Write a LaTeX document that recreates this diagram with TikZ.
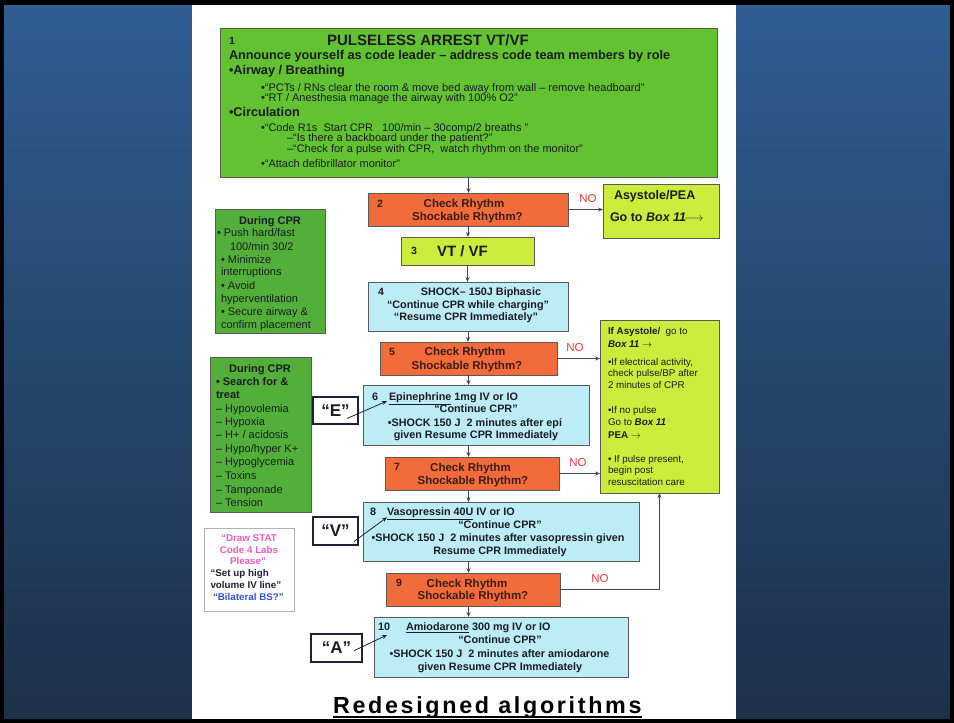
\documentclass[tikz,border=0pt]{standalone}
\usepackage{fontspec}
\setmainfont{Liberation Sans}
\usetikzlibrary{arrows.meta}
\definecolor{bgtop}{HTML}{2F5E92}
\definecolor{bgbot}{HTML}{1D3049}
\definecolor{boxgreen}{HTML}{62C232}
\definecolor{cprgreen}{HTML}{52B03A}
\definecolor{orng}{HTML}{F26B3A}
\definecolor{limeb}{HTML}{CBEC3A}
\definecolor{cyanbox}{HTML}{BCECF5}
\definecolor{bord}{HTML}{5A5A5A}
\definecolor{txt}{HTML}{1C1C22}
\definecolor{otxt}{HTML}{3A1E18}
\definecolor{arrowc}{HTML}{3B4763}
\definecolor{nored}{HTML}{E8383C}
\definecolor{pinktx}{HTML}{EA5BC3}
\definecolor{bluetx}{HTML}{3552CC}
\definecolor{navytx}{HTML}{20203A}
\newcommand\fsz[1]{\fontsize{#1}{#1}\selectfont}
\tikzset{
  box/.style={draw=bord, line width=0.8pt, inner sep=0pt, outer sep=0pt},
  gbox/.style={box, fill=boxgreen},
  cbox/.style={box, fill=cprgreen},
  obox/.style={box, fill=orng},
  lbox/.style={box, fill=limeb},
  bbox/.style={box, fill=cyanbox},
  wbox/.style={draw=navytx, line width=1.8pt, fill=white, inner sep=0pt, outer sep=0pt},
  pbox/.style={draw=black!30, line width=0.8pt, fill=white, inner sep=0pt, outer sep=0pt},
  tx/.style={inner sep=0pt, outer sep=0pt, anchor=base west, text=txt},
  tc/.style={inner sep=0pt, outer sep=0pt, anchor=base, text=txt},
  otx/.style={tx, text=otxt},
  otc/.style={tc, text=otxt},
  arr/.style={draw=arrowc, line width=0.8pt, -{Stealth[length=5pt,width=4pt]}},
  noLbl/.style={inner sep=0pt, anchor=center, text=nored, font=\fsz{11.5}},
}
\begin{document}
\begin{tikzpicture}[x=1pt,y=-1pt]
\useasboundingbox (0,0) rectangle (954,723);
\shade[top color=bgtop,bottom color=bgbot] (0,0) rectangle (954,723);
\fill[white] (192,5) rectangle (736,719);
\fill[black] (0,0) rectangle (954,4.5);
\fill[black] (0,719) rectangle (954,723);
\fill[black] (0,0) rectangle (4,723);
\fill[black] (950,0) rectangle (954,723);

% ---------- boxes ----------
\node[gbox, minimum width=497pt, minimum height=149pt] (b1) at (468.5,102.5) {};
\node[obox, minimum width=200pt, minimum height=33pt] (b2) at (468,209.5) {};
\node[lbox, minimum width=116pt, minimum height=54pt] (asys) at (661,211) {};
\node[lbox, minimum width=133pt, minimum height=28pt] (b3) at (467.5,251) {};
\node[bbox, minimum width=200pt, minimum height=49pt] (b4) at (468,306.5) {};
\node[cbox, minimum width=110pt, minimum height=124pt] (cpr1) at (270,271) {};
\node[obox, minimum width=177pt, minimum height=33pt] (b5) at (468.5,358.5) {};
\node[lbox, minimum width=119pt, minimum height=173pt] (ifa) at (659.5,406.5) {};
\node[cbox, minimum width=101pt, minimum height=155pt] (cpr2) at (260.5,434.5) {};
\node[bbox, minimum width=226pt, minimum height=60pt] (b6) at (476,415) {};
\node[obox, minimum width=174pt, minimum height=33pt] (b7) at (472,473.5) {};
\node[bbox, minimum width=276pt, minimum height=59pt] (b8) at (501,531.5) {};
\node[pbox, minimum width=90pt, minimum height=83pt] (labs) at (249,569.5) {};
\node[obox, minimum width=174pt, minimum height=33pt] (b9) at (473,589.5) {};
\node[bbox, minimum width=254pt, minimum height=60pt] (b10) at (501,647) {};
\node[wbox, minimum width=45pt, minimum height=27pt, font=\fsz{17}\bfseries, text=txt] (eb) at (335.5,410.5) {“E”};
\node[wbox, minimum width=45pt, minimum height=28pt, font=\fsz{17}\bfseries, text=txt] (vb) at (335.5,531) {“V”};
\node[wbox, minimum width=51pt, minimum height=28pt, font=\fsz{17}\bfseries, text=txt] (ab) at (336.5,648) {“A”};

% ---------- box 1 text ----------
\node[tx, font=\fsz{10.5}\bfseries] (n1) at (229,44.5) {1};
\node[tx, font=\fsz{15}\bfseries] (t1a) at (327,45.7) {PULSELESS ARREST VT/VF};
\node[tx, font=\fsz{12.7}\bfseries] (t1b) at (229,59.2) {Announce yourself as code leader – address code team members by role};
\node[tx, font=\fsz{12.7}\bfseries] (t1c) at (229,74.9) {•Airway / Breathing};
\node[tx, font=\fsz{11}] (t1d) at (261,91) {•“PCTs / RNs clear the room \& move bed away from wall – remove headboard”};
\node[tx, font=\fsz{11}] (t1e) at (261,101.4) {•“RT / Anesthesia manage the airway with 100\% O2”};
\node[tx, font=\fsz{12.7}\bfseries] (t1f) at (229,116.9) {•Circulation};
\node[tx, font=\fsz{11}] (t1g) at (261,131) {•“Code R1s\ \ Start CPR\ \ \ 100/min – 30comp/2 breaths ”};
\node[tx, font=\fsz{11}] (t1h) at (287,141.4) {–“Is there a backboard under the patient?”};
\node[tx, font=\fsz{11}] (t1i) at (287,152) {–“Check for a pulse with CPR,\ \ watch rhythm on the monitor”};
\node[tx, font=\fsz{11}] (t1j) at (261,167) {•“Attach defibrillator monitor”};

% ---------- box 2 ----------
\node[otx, font=\fsz{10.5}\bfseries] (n2) at (377,207.5) {2};
\node[otc, font=\fsz{11.5}\bfseries] (t2a) at (464,207.8) {Check Rhythm};
\node[otc, font=\fsz{11.5}\bfseries] (t2b) at (467.5,220.2) {Shockable Rhythm?};
\node[noLbl] (no2) at (588,199) {NO};

% ---------- asystole/PEA ----------
\node[tx, font=\fsz{12.5}\bfseries] (tasa) at (614,199.5) {Asystole/PEA};
\node[tx, font=\fsz{12.5}\bfseries] (tasb) at (610,221) {Go to \textit{Box 11}$\!\longrightarrow$};

% ---------- box 3 ----------
\node[tx, font=\fsz{10.5}\bfseries] (n3) at (411,254.5) {3};
\node[tx, font=\fsz{15}\bfseries] (t3) at (437,256.3) {VT / VF};

% ---------- box 4 ----------
\node[tx, font=\fsz{10.5}\bfseries] (n4) at (378,295.7) {4};
\node[tc, font=\fsz{10.8}\bfseries] (t4a) at (481,295.7) {SHOCK– 150J Biphasic};
\node[tc, font=\fsz{10.8}\bfseries] (t4b) at (468,308.7) {“Continue CPR while charging”};
\node[tc, font=\fsz{10.8}\bfseries] (t4c) at (466,320.7) {“Resume CPR Immediately”};

% ---------- during CPR 1 ----------
\node[tc, font=\fsz{11}\bfseries] (c1a) at (270,224.5) {During CPR};
\node[tx, font=\fsz{11}] (c1b) at (217,236) {• Push hard/fast};
\node[tx, font=\fsz{11}] (c1c) at (230,250.4) {100/min 30/2};
\node[tx, font=\fsz{11}] (c1d) at (221,263.7) {• Minimize};
\node[tx, font=\fsz{11}] (c1e) at (221,275.7) {interruptions};
\node[tx, font=\fsz{11}] (c1f) at (221,289.7) {• Avoid};
\node[tx, font=\fsz{11}] (c1g) at (221,302.7) {hyperventilation};
\node[tx, font=\fsz{11}] (c1h) at (221,315.7) {• Secure airway \&};
\node[tx, font=\fsz{11}] (c1i) at (221,328.7) {confirm placement};

% ---------- box 5 ----------
\node[otx, font=\fsz{10.5}\bfseries] (n5) at (389,355.4) {5};
\node[otc, font=\fsz{11.5}\bfseries] (t5a) at (465,355.8) {Check Rhythm};
\node[otc, font=\fsz{11.5}\bfseries] (t5b) at (467,369) {Shockable Rhythm?};
\node[noLbl] (no5) at (575,348) {NO};

% ---------- if asystole ----------
\node[tx, font=\fsz{9.8}] (ia1) at (608,334.3) {\textbf{If Asystole/}\ \ go to};
\node[tx, font=\fsz{9.8}] (ia2) at (608,347.3) {\textbf{\textit{Box 11}} $\rightarrow$};
\node[tx, font=\fsz{9.8}] (ia3) at (608,365.8) {•If electrical activity,};
\node[tx, font=\fsz{9.8}] (ia4) at (608,376.8) {check pulse/BP after};
\node[tx, font=\fsz{9.8}] (ia5) at (608,388.3) {2 minutes of CPR};
\node[tx, font=\fsz{9.8}] (ia6) at (608,413.8) {•If no pulse};
\node[tx, font=\fsz{9.8}] (ia7) at (608,425.3) {Go to \textbf{\textit{Box 11}}};
\node[tx, font=\fsz{9.8}] (ia8) at (608,438.3) {\textbf{PEA} $\rightarrow$};
\node[tx, font=\fsz{9.8}] (ia9) at (608,462.3) {• If pulse present,};
\node[tx, font=\fsz{9.8}] (ia10) at (608,473.8) {begin post};
\node[tx, font=\fsz{9.8}] (ia11) at (608,485.3) {resuscitation care};

% ---------- during CPR 2 ----------
\node[tc, font=\fsz{11}\bfseries] (c2a) at (260,372) {During CPR};
\node[tx, font=\fsz{11}\bfseries] (c2b) at (216,385.4) {• Search for \&};
\node[tx, font=\fsz{11}\bfseries] (c2c) at (216,398) {treat};
\node[tx, font=\fsz{11}] (c2d) at (216,412) {– Hypovolemia};
\node[tx, font=\fsz{11}] (c2e) at (216,425.4) {– Hypoxia};
\node[tx, font=\fsz{11}] (c2f) at (216,438.7) {– H+ / acidosis};
\node[tx, font=\fsz{11}] (c2g) at (216,452.7) {– Hypo/hyper K+};
\node[tx, font=\fsz{11}] (c2h) at (216,465.7) {– Hypoglycemia};
\node[tx, font=\fsz{11}] (c2i) at (216,479) {– Toxins};
\node[tx, font=\fsz{11}] (c2j) at (216,493) {– Tamponade};
\node[tx, font=\fsz{11}] (c2k) at (216,506.4) {– Tension};

% ---------- box 6 ----------
\node[tx, font=\fsz{10.8}\bfseries] (n6) at (372,400.4) {6};
\node[tx, font=\fsz{10.8}\bfseries] (t6a) at (389,400.4) {\underline{Epinephrine} 1mg IV or IO};
\node[tc, font=\fsz{10.8}\bfseries] (t6b) at (476,412.7) {“Continue CPR”};
\node[tc, font=\fsz{10.8}\bfseries] (t6c) at (475,426.4) {•SHOCK 150 J\ \ 2 minutes after epi};
\node[tc, font=\fsz{10.8}\bfseries] (t6d) at (476,438.7) {given Resume CPR Immediately};

% ---------- box 7 ----------
\node[otx, font=\fsz{10.5}\bfseries] (n7) at (394,470.7) {7};
\node[otc, font=\fsz{11.5}\bfseries] (t7a) at (470.5,471) {Check Rhythm};
\node[otc, font=\fsz{11.5}\bfseries] (t7b) at (473,484) {Shockable Rhythm?};
\node[noLbl] (no7) at (578,463) {NO};

% ---------- box 8 ----------
\node[tx, font=\fsz{10.8}\bfseries] (n8) at (370,515.4) {8};
\node[tx, font=\fsz{10.8}\bfseries] (t8a) at (387,515.4) {\underline{Vasopressin 40U} IV or IO};
\node[tc, font=\fsz{10.8}\bfseries] (t8b) at (500,528.7) {“Continue CPR”};
\node[tc, font=\fsz{10.8}\bfseries] (t8c) at (498,541) {•SHOCK 150 J\ \ 2 minutes after vasopressin given};
\node[tc, font=\fsz{10.8}\bfseries] (t8d) at (500,554.4) {Resume CPR Immediately};

% ---------- labs box ----------
\node[tc, font=\fsz{9.8}\bfseries, text=pinktx] (l1) at (249,541.2) {“Draw STAT};
\node[tc, font=\fsz{9.8}\bfseries, text=pinktx] (l2) at (249,553.5) {Code 4 Labs};
\node[tc, font=\fsz{9.8}\bfseries, text=pinktx] (l3) at (248,564.5) {Please”};
\node[tx, font=\fsz{9.8}\bfseries, text=navytx] (l4) at (210.5,576.2) {“Set up high};
\node[tx, font=\fsz{9.8}\bfseries, text=navytx] (l5) at (210.5,588.5) {volume IV line”};
\node[tx, font=\fsz{9.8}\bfseries, text=bluetx] (l6) at (213,600.8) {“Bilateral BS?”};

% ---------- box 9 ----------
\node[otx, font=\fsz{10.5}\bfseries] (n9) at (396,586.7) {9};
\node[otc, font=\fsz{11.5}\bfseries] (t9a) at (467,587) {Check Rhythm};
\node[otc, font=\fsz{11.5}\bfseries] (t9b) at (473,599.7) {Shockable Rhythm?};
\node[noLbl] (no9) at (600,579) {NO};

% ---------- box 10 ----------
\node[tx, font=\fsz{10.8}\bfseries] (n10) at (378,630.4) {10};
\node[tx, font=\fsz{10.8}\bfseries] (t10a) at (406,630.4) {\underline{Amiodarone} 300 mg IV or IO};
\node[tc, font=\fsz{10.8}\bfseries] (t10b) at (500,643.7) {“Continue CPR”};
\node[tc, font=\fsz{10.8}\bfseries] (t10c) at (499.5,657) {•SHOCK 150 J\ \ 2 minutes after amiodarone};
\node[tc, font=\fsz{10.8}\bfseries] (t10d) at (500,670.4) {given Resume CPR Immediately};

% ---------- title ----------
\node[tx, font=\fsz{23.3}\bfseries\addfontfeature{LetterSpace=11.5}, text=black] (ttl) at (333,713.3) {Redesigned algorithms};
\draw[line width=2pt, black] ([yshift=-3.8pt]ttl.base west) -- ([yshift=-3.8pt]ttl.base east);

% ---------- connectors ----------
\draw[arr] (b1.south) -- (b1.south |- b2.north);
\draw[arr] (b2.south) -- (b2.south |- b3.north);
\draw[arr] (b3.south) -- (b3.south |- b4.north);
\draw[arr] (b4.south) -- (b4.south |- b5.north);
\draw[arr] (b5.south) -- (b5.south |- b6.north);
\draw[arr] (b5.south |- b6.south) -- (b5.south |- b7.north);
\draw[arr] (b5.south |- b7.south) -- (b5.south |- b8.north);
\draw[arr] (b5.south |- b8.south) -- (b5.south |- b9.north);
\draw[arr] (b5.south |- b9.south) -- (b5.south |- b10.north);
\draw[arr] (b2.east) -- (b2.east -| asys.west);
\draw[arr] (b5.east) -- (b5.east -| ifa.west);
\draw[arr] (b7.east) -- (b7.east -| ifa.west);
\draw[arr] (b9.east) -| (ifa.south);

\coordinate (eS) at (347,418.5);
\coordinate (eT) at (387,401);
\coordinate (vS) at (354,541.5);
\coordinate (vT) at (387,517.3);
\coordinate (aS) at (354,650.7);
\coordinate (aT) at (387,635);
\draw[arr, draw=navytx] (eS) -- (eT);
\draw[arr, draw=navytx] (vS) -- (vT);
\draw[arr, draw=navytx] (aS) -- (aT);
\end{tikzpicture}
\end{document}
